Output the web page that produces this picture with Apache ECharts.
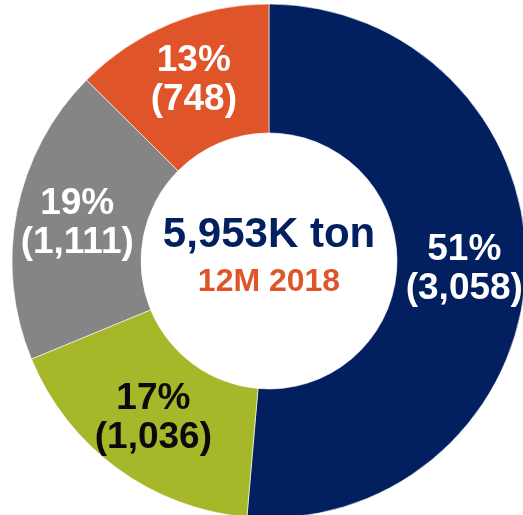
<!DOCTYPE html>
<html>
<head>
<meta charset="utf-8">
<script src="https://cdn.jsdelivr.net/npm/echarts@6/dist/echarts.min.js"></script>
<style>
  html, body { margin: 0; padding: 0; background: #fff; }
  #chart { width: 523px; height: 515px; }
</style>
</head>
<body>
<div id="chart"></div>
<script>
// 12M 2018 volume split (K ton), clockwise from 12 o'clock
const names = ['A', 'B', 'C', 'D'];
const values = [3058, 1036, 1111, 748];
const percents = ['51%', '17%', '19%', '13%'];
const colors = ['#02205F', '#A6B82A', '#858585', '#E0542A'];
const labelColors = ['#fff', '#0a0a0a', '#fff', '#fff'];
const totalText = '5,953K ton';
const periodText = '12M 2018';

const chart = echarts.init(document.getElementById('chart'));

const fmt = n => n.toLocaleString('en-US');

chart.setOption({
  animation: false,
  graphic: [
    {
      type: 'text',
      style: {
        x: 269, y: 214, text: totalText, align: 'center', verticalAlign: 'top',
        font: 'bold 42px "Liberation Sans", Arial, sans-serif', fill: '#02205F'
      }
    },
    {
      type: 'text',
      style: {
        x: 269, y: 266, text: periodText, align: 'center', verticalAlign: 'top',
        font: 'bold 32px "Liberation Sans", Arial, sans-serif', fill: '#E0542A'
      }
    }
  ],
  series: [{
    type: 'pie',
    center: [269, 261],
    radius: [128, 257],
    startAngle: 90,
    clockwise: true,
    silent: true,
    itemStyle: { borderColor: '#fff', borderWidth: 0.6 },
    label: {
      show: true,
      position: 'inside',
      fontFamily: '"Liberation Sans", Arial, sans-serif',
      fontWeight: 'bold',
      fontSize: 37,
      lineHeight: 39,
      align: 'center'
    },
    labelLine: { show: false },
    data: values.map((v, i) => ({
      name: names[i],
      value: v,
      itemStyle: { color: colors[i] },
      label: { color: labelColors[i], formatter: percents[i] + '\n(' + fmt(v) + ')' }
    }))
  }]
});
</script>
</body>
</html>
